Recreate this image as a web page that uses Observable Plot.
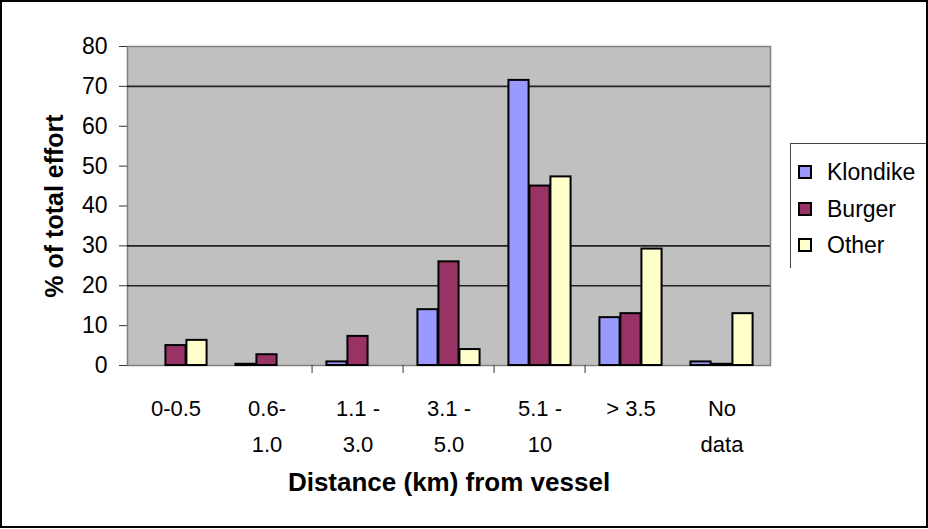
<!DOCTYPE html>
<html>
<head>
<meta charset="utf-8">
<script src="https://cdn.jsdelivr.net/npm/d3@7"></script>
<script src="https://cdn.jsdelivr.net/npm/@observablehq/plot@0.6"></script>
<style>
  html, body { margin: 0; padding: 0; background: #fff; }
  #wrap { position: relative; width: 928px; height: 529px; overflow: hidden; font-family: "Liberation Sans", Arial, sans-serif; }
  #border { position: absolute; left: 0; top: 0; width: 928px; height: 528px; box-sizing: border-box; border: 2px solid #000; pointer-events: none; }
  #legend { position: absolute; left: 790px; top: 143px; width: 200px; height: 125px; border-left: 1px solid #444; border-top: 1px solid #444; box-sizing: border-box; }
  .item { position: absolute; left: 7px; height: 26px; font-size: 23px; line-height: 26px; color: #000; display: flex; align-items: center; }
  .sw { width: 10px; height: 10px; border: 2px solid #000; margin-right: 15px; }
</style>
</head>
<body>
<div id="wrap"><div id="chart"></div><div id="legend"></div><div id="border"></div></div>
<script>
const categories = ["0-0.5", "0.6-1.0", "1.1-3.0", "3.1-5.0", "5.1-10", "> 3.5", "No data"];
const tickLabels = ["0-0.5", "0.6-\n1.0", "1.1 -\n3.0", "3.1 -\n5.0", "5.1 -\n10", "> 3.5", "No\ndata"];
const series = ["Klondike", "Burger", "Other"];
const klondike = [0, 0.3, 0.9, 14, 71.5, 12, 0.9];
const burger   = [5, 2.7, 7.3, 26, 45, 13, 0.3];
const other    = [6.3, 0, 0, 4, 47.3, 29.2, 13];
const colors = ["#9999FF", "#993366", "#FFFFCC"];
const yTicks = [0, 10, 20, 30, 40, 50, 60, 70, 80];
const gridValues = [20, 30, 70];

const values = [klondike, burger, other];
const rows = [];
series.forEach((s, j) => categories.forEach((c, i) => rows.push({category: c, series: s, value: values[j][i]})));

const width = 928, height = 529;
const mL = 127, mR = 158, mT = 46, mB = 164;
const band = (width - mL - mR) / categories.length;
const barW = 21;
const side = (band - barW * series.length) / 2;

const barMarks = series.map((s, j) => Plot.barY(rows.filter(d => d.series === s && d.value > 0), {
  x: "category", y: "value", fill: colors[j], stroke: "#000", strokeWidth: 2,
  insetLeft: side + j * barW, insetRight: band - side - (j + 1) * barW
}));

const chart = Plot.plot({
  width, height,
  marginLeft: mL, marginRight: mR, marginTop: mT, marginBottom: mB,
  style: {fontFamily: "'Liberation Sans', Arial, sans-serif", background: "transparent"},
  x: {domain: categories, padding: 0},
  y: {domain: [0, 80]},
  marks: [
    Plot.frame({fill: "#C0C0C0", stroke: "#808080", strokeWidth: 1.5}),
    Plot.ruleY(gridValues, {stroke: "#222", strokeWidth: 1.6}),
    ...barMarks,
    Plot.axisY({ticks: yTicks, tickSize: 8, tickPadding: 12, fontSize: 23, stroke: "#333",
      label: "% of total effort", labelAnchor: "center", labelArrow: "none", labelOffset: 82}),
    Plot.axisX({ticks: categories.slice(2, 6), tickSize: 8, tickFormat: () => "", dx: -band / 2, stroke: "#333", label: null}),
    Plot.axisX({tickSize: 0, tickPadding: 25, fontSize: 22, lineHeight: 1.64,
      tickFormat: (d) => tickLabels[categories.indexOf(d)],
      label: "Distance (km) from vessel", labelAnchor: "center", labelArrow: "none", labelOffset: 125})
  ]
});
document.getElementById("chart").appendChild(chart);

// font sizes and weights for axis texts
d3.select(chart).selectAll("g[aria-label='y-axis tick label']").style("font-size", "23px");
d3.select(chart).selectAll("g[aria-label='y-axis label'] text")
  .style("font-weight", "bold").style("font-size", "25px");
d3.select(chart).selectAll("g[aria-label='x-axis label'] text")
  .style("font-weight", "bold").style("font-size", "26px");

const legend = document.getElementById("legend");
series.forEach((s, j) => {
  const it = document.createElement("div");
  it.className = "item";
  it.style.top = (15 + j * 36.5) + "px";
  it.innerHTML = `<span class="sw" style="background:${colors[j]}"></span><span>${s}</span>`;
  legend.appendChild(it);
});
</script>
</body>
</html>
